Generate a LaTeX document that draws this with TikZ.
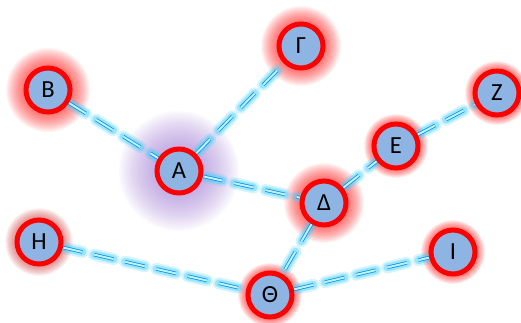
\documentclass[tikz,border=0pt]{standalone}
\usepackage{fontspec}
\setmainfont{Carlito}
\usetikzlibrary{calc}
\pgfdeclarelayer{glow}
\pgfdeclarelayer{edges}
\pgfsetlayers{glow,edges,main}
\definecolor{ringred}{RGB}{255,0,0}
\definecolor{nodeblue}{RGB}{141,180,226}
\definecolor{linkblue}{RGB}{0,150,230}
\definecolor{linkglow}{RGB}{60,205,255}
\definecolor{haloviolet}{RGB}{150,110,205}
\tikzset{
  letter/.style={circle, draw=ringred, fill=nodeblue, line width=0.1cm,
    minimum size=0.88cm, inner sep=0pt, font=\fontsize{14}{14}\selectfont},
  linkhalo/.style={draw=linkglow, line cap=round,
    dash pattern=on 0.4cm off 0.24cm},
  link/.style={draw=linkblue, line width=0.45pt, double=linkglow!30,
    double distance=1.1pt, dash pattern=on 0.4cm off 0.24cm}
}
% soft glow round a node: name, outer radius, colour
\newcommand{\halo}[3]{%
  \foreach \k in {1,...,18}
    \fill[#3, opacity=0.045] (#1) circle ({23+(#2-23)*\k/18});%
}
% glowing double dashed link
\newcommand{\glowlink}[2]{%
  \draw[linkhalo, line width=0.24cm, opacity=0.22] (#1) -- (#2);
  \draw[linkhalo, line width=0.16cm, opacity=0.38] (#1) -- (#2);
  \draw[link] (#1) -- (#2);%
}

\begin{document}
\begin{tikzpicture}[x=0.02cm,y=-0.02cm]

  \useasboundingbox (0,0) rectangle (521,322);

  % --- nodes ---
  \node[letter] (alpha)   at (179,171) {Α};
  \node[letter] (beta)    at (48,90)   {Β};
  \node[letter] (gamma)   at (301,46)  {Γ};
  \node[letter] (delta)   at (324,203) {Δ};
  \node[letter] (epsilon) at (396,146) {Ε};
  \node[letter] (zeta)    at (497,93)  {Ζ};
  \node[letter] (eta)     at (39,242)  {Η};
  \node[letter] (theta)   at (270,295) {Θ};
  \node[letter] (iota)    at (453,252) {Ι};

  % --- halos ---
  \begin{pgfonlayer}{glow}
    \halo{alpha}{60}{haloviolet}
    \halo{beta}{42}{red}
    \halo{gamma}{40}{red}
    \halo{delta}{40}{red}
    \halo{epsilon}{32}{red}
    \halo{zeta}{32}{red}
    \halo{eta}{34}{red!60!gray}
    \halo{theta}{32}{red}
    \halo{iota}{32}{red}
  \end{pgfonlayer}

  % --- links ---
  \begin{pgfonlayer}{edges}
    \glowlink{beta}{alpha}
    \glowlink{alpha}{gamma}
    \glowlink{alpha}{delta}
    \glowlink{delta}{epsilon}
    \glowlink{epsilon}{zeta}
    \glowlink{delta}{theta}
    \glowlink{eta}{theta}
    \glowlink{theta}{iota}
  \end{pgfonlayer}

\end{tikzpicture}
\end{document}
